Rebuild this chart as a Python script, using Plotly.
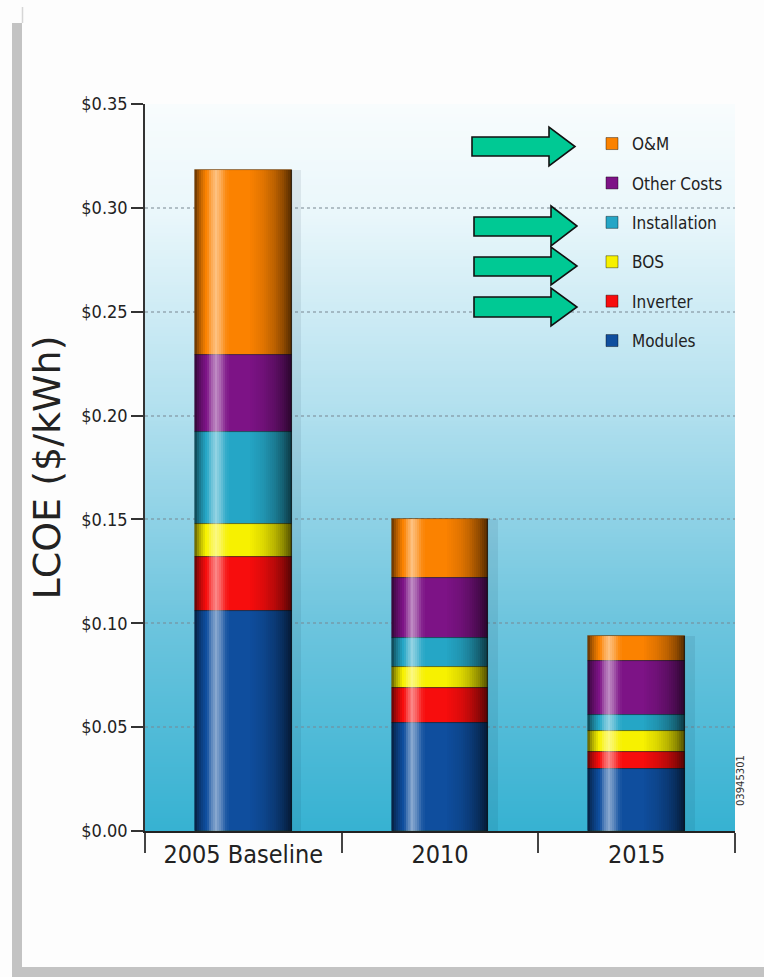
import base64
import struct
import zlib

import numpy as np
import plotly.graph_objects as go

# ---------------- data ----------------
categories = ["2005 Baseline", "2010", "2015"]
series_names = ["Modules", "Inverter", "BOS", "Installation", "Other Costs", "O&M"]
modules = [0.106, 0.052, 0.030]
inverter = [0.026, 0.017, 0.008]
bos = [0.016, 0.010, 0.010]
installation = [0.044, 0.014, 0.008]
other_costs = [0.037, 0.029, 0.026]
om = [0.089, 0.028, 0.012]
series_colors = ["#0f4e9e", "#f70d0d", "#f7f100", "#25a6c6", "#7d1386", "#fb8200"]
y_tick_values = [0.00, 0.05, 0.10, 0.15, 0.20, 0.25, 0.30, 0.35]
y_tick_text = ["$0.00", "$0.05", "$0.10", "$0.15", "$0.20", "$0.25", "$0.30", "$0.35"]

series_values = [modules, inverter, bos, installation, other_costs, om]

# ---------------- layout geometry ----------------
W, H = 764, 977
ML, MR, MT, MB = 145, 29, 104, 146
PW = W - ML - MR
PH = H - MT - MB


def px_x(px):
    return (px - ML) / PW


def px_y(py):
    return (H - MB - py) / PH


# ---------------- gradient background png ----------------
def gradient_png(stops, n=256):
    rows = []
    for i in range(n):
        t = i / (n - 1)
        for (t0, c0), (t1, c1) in zip(stops[:-1], stops[1:]):
            if t0 <= t <= t1:
                f = (t - t0) / (t1 - t0) if t1 > t0 else 0
                c = [int(round(a + (b - a) * f)) for a, b in zip(c0, c1)]
                break
        rows.append(b"\x00" + bytes(c) * 2)
    raw = b"".join(rows)

    def chunk(tag, data):
        return struct.pack(">I", len(data)) + tag + data + struct.pack(">I", zlib.crc32(tag + data) & 0xFFFFFFFF)

    png = b"\x89PNG\r\n\x1a\n"
    png += chunk(b"IHDR", struct.pack(">IIBBBBB", 2, n, 8, 2, 0, 0, 0))
    png += chunk(b"IDAT", zlib.compress(raw, 9))
    png += chunk(b"IEND", b"")
    return "data:image/png;base64," + base64.b64encode(png).decode()


bg_src = gradient_png([
    (0.0, (248, 252, 253)),
    (0.15, (234, 247, 251)),
    (0.43, (176, 223, 238)),
    (0.71, (110, 197, 222)),
    (1.0, (55, 178, 210)),
])

# ---------------- figure ----------------
fig = go.Figure()

bases = np.cumsum([[0.0] * len(categories)] + series_values[:-1], axis=0)
totals = np.sum(series_values, axis=0)

BAR_W = 0.49
stack = list(zip(series_names, series_values, bases, series_colors))
# added top-of-stack first so the legend lists O&M first (bases are explicit)
for name, vals, base, col in reversed(stack):
    fig.add_trace(go.Bar(
        x=categories, y=vals, base=base, name=name, legendgroup=name,
        width=BAR_W, marker=dict(color=col, line=dict(color="rgba(0,0,0,0.5)", width=0.8)),
    ))

# soft drop shadow to the right of each bar
fig.add_trace(go.Bar(
    x=categories, y=totals, base=[0] * len(categories), width=0.05, offset=0.245,
    marker=dict(color="rgba(0,30,50,0.08)", line=dict(width=0)), showlegend=False, hoverinfo="skip",
))

# cylinder shading: thin full-height stripes (style profile: + white, - black)
prof_pos = [-0.245, -0.228, -0.205, -0.182, -0.165, -0.140, -0.115, -0.092, -0.070, 0.030, 0.100, 0.160, 0.200, 0.228, 0.245]
prof_val = [-0.60, -0.35, -0.12, 0.05, 0.30, 0.50, 0.32, 0.08, 0.0, 0.0, -0.10, -0.26, -0.42, -0.58, -0.70]
STEP = 0.01
edges = np.arange(-BAR_W / 2, BAR_W / 2 - 1e-9, STEP)
for a in edges:
    b = min(a + STEP, BAR_W / 2)
    v = float(np.interp((a + b) / 2, prof_pos, prof_val))
    if abs(v) < 0.01:
        continue
    c = f"rgba(255,255,255,{v:.3f})" if v > 0 else f"rgba(0,0,0,{-v:.3f})"
    fig.add_trace(go.Bar(
        x=categories, y=totals, base=[0] * len(categories), width=b - a, offset=a,
        marker=dict(color=c, line=dict(width=0)), showlegend=False, hoverinfo="skip",
    ))

COND = "DejaVu Sans Condensed, DejaVu Sans, sans-serif"

# ---------------- decorations ----------------
shapes = []
gray = "#c3c3c3"
shapes.append(dict(type="rect", xref="paper", yref="paper", x0=px_x(12), x1=px_x(22), y0=px_y(977), y1=px_y(23),
                   fillcolor=gray, line=dict(width=0), layer="below"))
shapes.append(dict(type="rect", xref="paper", yref="paper", x0=px_x(12), x1=px_x(764), y0=px_y(977), y1=px_y(967),
                   fillcolor=gray, line=dict(width=0), layer="below"))
shapes.append(dict(type="line", xref="paper", yref="paper", x0=px_x(22.5), x1=px_x(22.5), y0=px_y(23), y1=px_y(7),
                   line=dict(color="#d6d6d6", width=1.5), layer="below"))

arrows = [
    (472, 549, 575, 137, 156, 127, 166, 146.5),
    (474, 551, 577, 217, 236, 206, 246, 226),
    (474, 551, 577, 257, 276, 247, 285, 266),
    (474, 551, 577, 297, 317, 288, 326, 307),
]
for x0, xb, tip, bt, bb, ht, hb, ty in arrows:
    pts = [(x0, bt), (xb, bt), (xb, ht), (tip, ty), (xb, hb), (xb, bb), (x0, bb)]
    path = "M " + " L ".join(f"{px_x(px):.5f},{px_y(py):.5f}" for px, py in pts) + " Z"
    shapes.append(dict(type="path", xref="paper", yref="paper", path=path,
                       fillcolor="#00c994", line=dict(color="#111", width=1.6), layer="above"))

fig.update_layout(
    width=W, height=H,
    margin=dict(l=ML, r=MR, t=MT, b=MB, pad=0),
    paper_bgcolor="#fdfdfd",
    plot_bgcolor="rgba(0,0,0,0)",
    barmode="overlay",
    bargap=0,
    showlegend=True,
    legend=dict(
        x=px_x(592), y=px_y(126), xanchor="left", yanchor="top",
        traceorder="grouped", tracegroupgap=14.3,
        font=dict(family=COND, size=17, color="#222"),
        bgcolor="rgba(0,0,0,0)", borderwidth=0,
        itemwidth=30,
    ),
    images=[dict(source=bg_src, xref="paper", yref="paper", x=0, y=1, sizex=1, sizey=1,
                 xanchor="left", yanchor="top", sizing="stretch", layer="below")],
    shapes=shapes,
    annotations=[dict(text="03945301", xref="paper", yref="paper", x=px_x(748), y=px_y(808),
                      showarrow=False, textangle=-90, font=dict(family="DejaVu Sans", size=10, color="#333"))],
    xaxis=dict(
        range=[-0.5, 2.5], showline=True, linecolor="#222", linewidth=2,
        ticks="outside", tickson="boundaries", ticklen=20, tickcolor="#444", tickwidth=1.5,
        showgrid=False, tickfont=dict(family=COND, size=25, color="#222"),
    ),
    yaxis=dict(
        range=[0, 0.35], tickmode="array", tickvals=y_tick_values, ticktext=y_tick_text,
        showline=True, linecolor="#333", linewidth=1.5,
        ticks="outside", ticklen=12, tickcolor="#333", tickwidth=1.5,
        showgrid=True, gridcolor="rgba(120,135,145,0.5)", griddash="dot", gridwidth=1.5,
        zeroline=False,
        tickfont=dict(family=COND, size=18, color="#222"),
        title=dict(text="LCOE ($/kWh)", font=dict(family="DejaVu Sans", size=38, color="#222"), standoff=9),
    ),
)

fig.write_html("out.html")
